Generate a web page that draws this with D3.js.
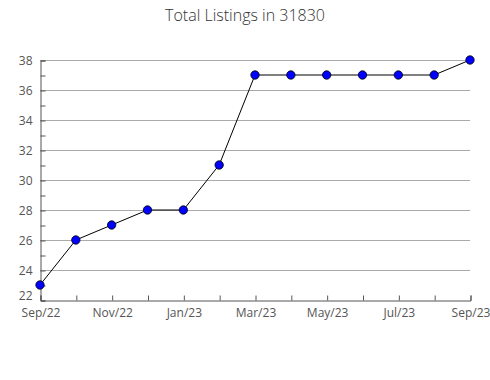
<!DOCTYPE html>
<html>
<head>
<meta charset="utf-8">
<script src="https://cdn.jsdelivr.net/npm/d3@7"></script>
<style>
  body { margin: 0; background: #fff; }
  text { font-family: "Open Sans", sans-serif; }
</style>
</head>
<body>
<div id="wrapper"></div>
<script>
const months = ["Sep/22", "Oct/22", "Nov/22", "Dec/22", "Jan/23", "Feb/23", "Mar/23",
                "Apr/23", "May/23", "Jun/23", "Jul/23", "Aug/23", "Sep/23"]
const listings = [23, 26, 27, 28, 28, 31, 37, 37, 37, 37, 37, 37, 38]
const yTicks = [22, 24, 26, 28, 30, 32, 34, 36, 38]

const margin = {top: 60, right: 20, bottom: 80, left: 40},
    width = 490 - margin.left - margin.right,
    height = 380 - margin.top - margin.bottom;

const svg = d3.select("#wrapper")
    .append("svg")
    .attr("width", 490)
    .attr("height", 380)

svg.append("text")
    .attr("x", 245)
    .attr("y", 21)
    .attr("text-anchor", "middle")
    .attr("font-size", 16)
    .attr("font-weight", 300)
    .attr("fill", "#333")
    .text("Total Listings in 31830")

const g = svg.append("g")
    .attr("transform", `translate(${margin.left},${margin.top})`);

const xScale = d3.scalePoint()
    .domain(months)
    .range([0, width]);
const yScale = d3.scaleLinear()
    .domain([22, 38])
    .range([height, 0]);

// grid
g.selectAll(".grid")
    .data(yTicks.slice(1))
    .enter()
    .append("line")
        .attr("x1", 0)
        .attr("x2", width)
        .attr("y1", d => yScale(d) + 0.5)
        .attr("y2", d => yScale(d) + 0.5)
        .attr("stroke", "#aaa")

// y axis
const yAxis = g.append("g")
    .attr("transform", "translate(0.5,0.5)")
    .call(d3.axisLeft(yScale).tickValues(d3.range(22, 39, 1)).tickSize(-5)
        .tickFormat(d => d % 2 == 0 ? d : ""))
yAxis.select(".domain").attr("stroke", "#555")
yAxis.selectAll(".tick line").attr("stroke", "#555")
yAxis.selectAll(".tick text").attr("x", -8).attr("font-size", 12).attr("fill", "#555")
    .attr("dy", d => d == 22 ? "-0.1em" : "0.32em")

// x axis
const xAxis = g.append("g")
    .attr("transform", `translate(0.5,${height + 0.5})`)
    .call(d3.axisBottom(xScale).tickSize(-5)
        .tickFormat((d, i) => i % 2 == 0 ? d : ""))
xAxis.select(".domain").attr("stroke", "#555")
xAxis.selectAll(".tick line").attr("stroke", "#555")
xAxis.selectAll(".tick text").attr("y", 8).attr("font-size", 12).attr("fill", "#555")

// line
const line = d3.line()
    .x((d, i) => xScale(months[i]))
    .y(d => yScale(d))
g.append("path")
    .datum(listings)
    .attr("d", line)
    .attr("fill", "none")
    .attr("stroke", "#000")
    .attr("stroke-width", 1)

g.selectAll(".pt")
    .data(listings)
    .enter()
    .append("circle")
        .attr("cx", (d, i) => xScale(months[i]))
        .attr("cy", d => yScale(d))
        .attr("r", 4.2)
        .attr("fill", "#0000ff")
        .attr("stroke", "#000")
        .attr("stroke-width", 0.8)
</script>
</body>
</html>
